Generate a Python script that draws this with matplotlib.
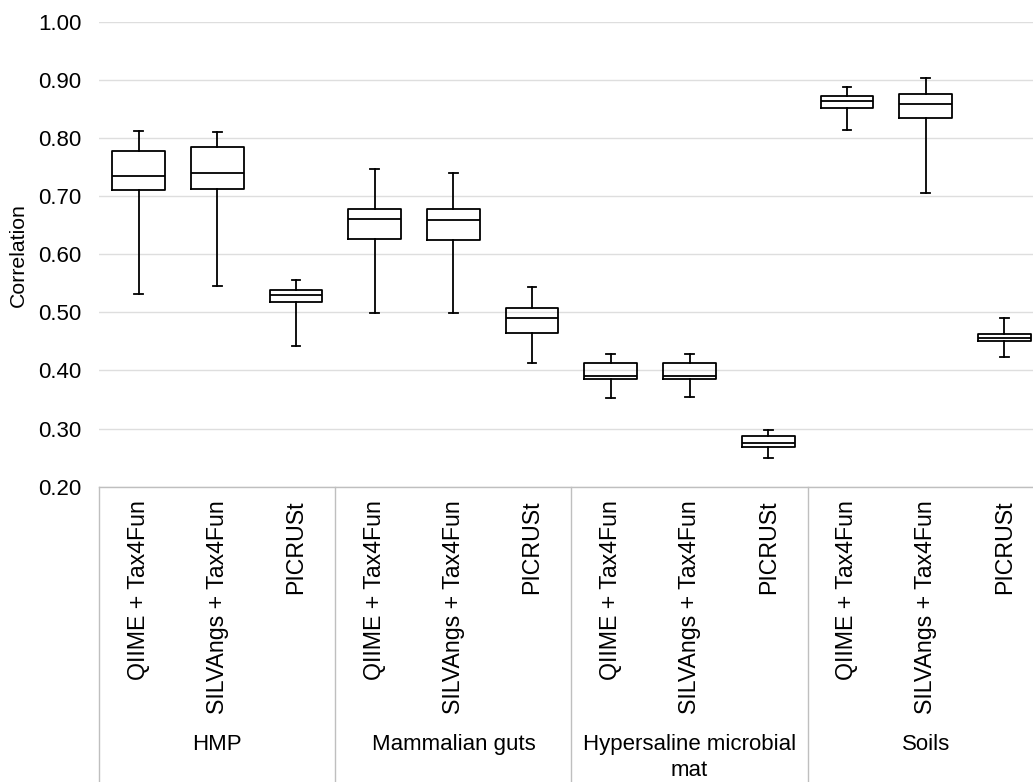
import matplotlib
matplotlib.use("Agg")
import matplotlib.pyplot as plt
import matplotlib.transforms as mtransforms
from matplotlib.ticker import FormatStrFormatter

plt.rcParams['font.family'] = ['Liberation Sans', 'DejaVu Sans']

# Datos
grupos = ['HMP', 'Mammalian guts', 'Hypersaline microbial\nmat', 'Soils']
metodos = ['QIIME + Tax4Fun', 'SILVAngs + Tax4Fun', 'PICRUSt']
etiquetas = metodos * 4

bigote_sup = [0.812, 0.810, 0.555, 0.747, 0.740, 0.543, 0.428, 0.428, 0.298, 0.888, 0.903, 0.490]
q3 = [0.777, 0.785, 0.538, 0.677, 0.677, 0.508, 0.413, 0.413, 0.288, 0.872, 0.875, 0.462]
mediana = [0.735, 0.739, 0.529, 0.661, 0.659, 0.490, 0.391, 0.391, 0.275, 0.863, 0.859, 0.456]
q1 = [0.711, 0.712, 0.518, 0.626, 0.625, 0.465, 0.385, 0.385, 0.269, 0.852, 0.834, 0.450]
bigote_inf = [0.532, 0.546, 0.442, 0.499, 0.499, 0.413, 0.353, 0.355, 0.250, 0.813, 0.706, 0.424]

stats = []
for i in range(len(etiquetas)):
    stats.append({'whislo': bigote_inf[i], 'q1': q1[i], 'med': mediana[i],
                  'q3': q3[i], 'whishi': bigote_sup[i], 'fliers': []})

fig = plt.figure(figsize=(10.33, 7.82), dpi=100)
ax = fig.add_axes([0.0961, 0.3776, 0.9142, 0.5946])

posiciones = list(range(len(etiquetas)))
estilo = dict(color='black', linewidth=1.3)
ax.bxp(stats, positions=posiciones, widths=0.67, capwidths=0.11,
       showfliers=False, boxprops=estilo, whiskerprops=estilo,
       capprops=estilo, medianprops=estilo)

ax.set_xlim(-0.5, len(etiquetas) - 0.5)
ax.set_ylim(0.2, 1.0)
ax.set_yticks([0.2, 0.3, 0.4, 0.5, 0.6, 0.7, 0.8, 0.9, 1.0])
ax.yaxis.set_major_formatter(FormatStrFormatter('%.2f'))
ax.grid(axis='y', color='#dedede', linewidth=1)
ax.set_axisbelow(True)

for s in ['top', 'right', 'left']:
    ax.spines[s].set_visible(False)
ax.spines['bottom'].set_color('#bfbfbf')
ax.spines['bottom'].set_linewidth(1)

ax.tick_params(axis='y', length=0, pad=13, labelsize=16)
ax.set_xticks(posiciones)
ax.set_xticklabels(etiquetas, rotation=90, fontsize=16.7)
ax.tick_params(axis='x', length=0, pad=10)

# lineas separadoras y nombres de grupo
trans = mtransforms.blended_transform_factory(ax.transData, ax.transAxes)
for x in [-0.5, 2.5, 5.5, 8.5, 11.5]:
    ax.plot([x, x], [0, -0.64], color='#bfbfbf', linewidth=1,
            transform=trans, clip_on=False)
for g, nombre in enumerate(grupos):
    ax.text(3 * g + 1, -0.532, nombre, transform=trans, ha='center',
            va='top', fontsize=16, linespacing=1.3)

fig.text(0.018, 0.674, 'Correlation', rotation=90, ha='center',
         va='center', fontsize=15.3)

fig.savefig('out.png', dpi=100)
